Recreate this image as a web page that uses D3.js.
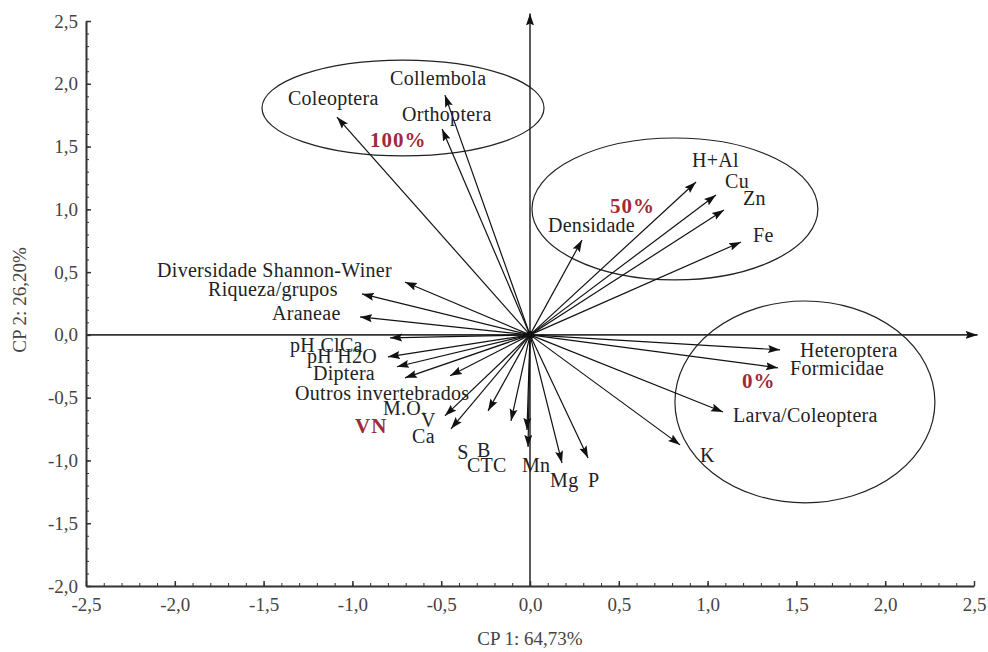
<!DOCTYPE html>
<html>
<head>
<meta charset="utf-8">
<script src="https://cdn.jsdelivr.net/npm/d3@7"></script>
<style>
  body { margin: 0; background: #fff; }
  svg { display: block; }
  text { font-family: "Liberation Serif", "Times New Roman", serif; }
</style>
</head>
<body>
<svg id="chart"></svg>
<script>
// variables of the PCA (loadings on CP 1 and CP 2)
const variables = ["Coleoptera", "Collembola", "Orthoptera", "Densidade", "H+Al", "Cu", "Zn", "Fe",
  "Diversidade Shannon-Winer", "Riqueza/grupos", "Araneae", "pH ClCa", "pH H2O", "Diptera",
  "Outros invertebrados", "M.O.", "V", "Ca", "S", "B", "CTC", "Mn", "Mg", "P", "K",
  "Larva/Coleoptera", "Heteroptera", "Formicidae"];
const cp1 = [-1.087, -0.479, -0.495, 0.293, 0.935, 1.047, 1.092, 1.188,
  -0.704, -0.946, -0.957, -0.788, -0.800, -0.749,
  -0.704, -0.450, -0.479, -0.445, -0.236, -0.107, -0.017, -0.011, 0.180, 0.327, 0.845,
  1.087, 1.408, 1.396];
const cp2 = [1.735, 1.910, 1.640, 0.756, 1.218, 1.114, 0.995, 0.740,
  0.421, 0.326, 0.143, -0.023, -0.175, -0.254,
  -0.342, -0.326, -0.645, -0.748, -0.605, -0.685, -0.757, -0.892, -1.020, -0.980, -0.876,
  -0.614, -0.119, -0.262];
// where each name is written (start of text, baseline), in CP units
const labelCP1 = [-1.363, -0.788, -0.721, 0.101, 0.912, 1.098, 1.199, 1.256,
  -2.100, -1.813, -1.453, -1.351, -1.256, -1.222,
  -1.323, -0.828, -0.614, -0.664, -0.410, -0.298, -0.355, -0.045, 0.113, 0.327, 0.957,
  1.143, 1.520, 1.464];
const labelCP2 = [1.830, 1.990, 1.700, 0.820, 1.337, 1.170, 1.035, 0.740,
  0.460, 0.310, 0.120, -0.140, -0.220, -0.360,
  -0.520, -0.637, -0.733, -0.860, -0.990, -0.970, -1.090, -1.090, -1.210, -1.210, -1.010,
  -0.690, -0.180, -0.320];

// groups (red labels) and the ellipses around them
const groups = ["100%", "50%", "0%", "VN"];
const groupCP1 = [-0.901, 0.450, 1.194, -0.985];
const groupCP2 = [1.495, 0.970, -0.420, -0.780];
const ellipseCP1 = [-0.715, 0.816, 1.548];
const ellipseCP2 = [1.807, 1.003, -0.534];
const ellipseRX = [0.794, 0.805, 0.732];
const ellipseRY = [0.382, 0.565, 0.804];

const xTicks = [-2.5, -2.0, -1.5, -1.0, -0.5, 0.0, 0.5, 1.0, 1.5, 2.0, 2.5];
const yTicks = [-2.0, -1.5, -1.0, -0.5, 0.0, 0.5, 1.0, 1.5, 2.0, 2.5];
const xTitle = "CP 1: 64,73%";
const yTitle = "CP 2: 26,20%";

const width = 988, height = 652;
const svg = d3.select("#chart").attr("width", width).attr("height", height);

const x = d3.scaleLinear().domain([-2.5, 2.5]).range([86, 974]);
const y = d3.scaleLinear().domain([-2.0, 2.5]).range([586, 21]);

const fmt = d => (d < 0 ? "-" : "") + Math.abs(d).toFixed(1).replace(".", ",");
const minor = (lo, hi) => d3.range(Math.round(lo * 10), Math.round(hi * 10) + 1).map(v => v / 10);

// arrowhead
svg.append("defs").append("marker")
  .attr("id", "head")
  .attr("markerUnits", "userSpaceOnUse")
  .attr("viewBox", "0 -5 12 10")
  .attr("markerWidth", 12)
  .attr("markerHeight", 10)
  .attr("refX", 12)
  .attr("refY", 0)
  .attr("orient", "auto")
  .append("path")
  .attr("d", "M0,-4L12,0L0,4L2,0Z")
  .attr("fill", "#111");

// minor ticks
svg.append("g")
  .attr("transform", `translate(0,${y(-2)})`)
  .call(d3.axisBottom(x).tickValues(minor(-2.5, 2.5)).tickSize(-3).tickSizeOuter(0).tickFormat(""))
  .call(g => g.select(".domain").remove())
  .call(g => g.selectAll("line").attr("stroke", "#333"));
svg.append("g")
  .attr("transform", `translate(${x(-2.5)},0)`)
  .call(d3.axisLeft(y).tickValues(minor(-2.0, 2.5)).tickSize(-3).tickSizeOuter(0).tickFormat(""))
  .call(g => g.select(".domain").remove())
  .call(g => g.selectAll("line").attr("stroke", "#333"));

// major axes
const xAxis = svg.append("g")
  .attr("transform", `translate(0,${y(-2)})`)
  .call(d3.axisBottom(x).tickValues(xTicks).tickSize(-5).tickSizeOuter(0).tickPadding(12).tickFormat(fmt));
const yAxis = svg.append("g")
  .attr("transform", `translate(${x(-2.5)},0)`)
  .call(d3.axisLeft(y).tickValues(yTicks).tickSize(-5).tickSizeOuter(0).tickPadding(8).tickFormat(fmt));
[xAxis, yAxis].forEach(a => {
  a.select(".domain").attr("stroke", "#333").attr("stroke-width", 2);
  a.selectAll("line").attr("stroke", "#333").attr("stroke-width", 1.5);
  a.selectAll("text")
    .attr("fill", "#444")
    .style("font-family", "'Liberation Serif', serif")
    .style("font-size", "19px");
});

// center axes with arrows
svg.append("line")
  .attr("x1", x(-2.5)).attr("y1", y(0))
  .attr("x2", x(2.52)).attr("y2", y(0))
  .attr("stroke", "#333").attr("stroke-width", 1.6)
  .attr("marker-end", "url(#head)");
svg.append("line")
  .attr("x1", x(0)).attr("y1", y(-2))
  .attr("x2", x(0)).attr("y2", y(2.56))
  .attr("stroke", "#333").attr("stroke-width", 1.6)
  .attr("marker-end", "url(#head)");

// ellipses
svg.selectAll(".group-ellipse")
  .data(ellipseCP1)
  .enter()
  .append("ellipse")
  .attr("class", "group-ellipse")
  .attr("cx", (d, i) => x(d))
  .attr("cy", (d, i) => y(ellipseCP2[i]))
  .attr("rx", (d, i) => x(d + ellipseRX[i]) - x(d))
  .attr("ry", (d, i) => y(ellipseCP2[i] - ellipseRY[i]) - y(ellipseCP2[i]))
  .attr("fill", "none")
  .attr("stroke", "#222")
  .attr("stroke-width", 1.2);

// loading vectors
svg.selectAll(".vector")
  .data(variables)
  .enter()
  .append("line")
  .attr("class", "vector")
  .attr("x1", x(0)).attr("y1", y(0))
  .attr("x2", (d, i) => x(cp1[i]))
  .attr("y2", (d, i) => y(cp2[i]))
  .attr("stroke", "#111")
  .attr("stroke-width", 1.2)
  .attr("marker-end", "url(#head)");

svg.append("circle")
  .attr("cx", x(0)).attr("cy", y(0)).attr("r", 4)
  .attr("fill", "#111");

// variable names
svg.selectAll(".var-label")
  .data(variables)
  .enter()
  .append("text")
  .attr("class", "var-label")
  .attr("x", (d, i) => x(labelCP1[i]))
  .attr("y", (d, i) => y(labelCP2[i]))
  .attr("fill", "#222")
  .style("font-size", "20px")
  .style("letter-spacing", "0.3px")
  .text(d => d);

// group names
svg.selectAll(".group-label")
  .data(groups)
  .enter()
  .append("text")
  .attr("class", "group-label")
  .attr("x", (d, i) => x(groupCP1[i]))
  .attr("y", (d, i) => y(groupCP2[i]))
  .attr("fill", "#9e2a3a")
  .style("font-size", "21px")
  .style("font-weight", "bold")
  .style("letter-spacing", "1px")
  .text(d => d);

// axis titles
svg.append("text")
  .attr("x", x(0))
  .attr("y", 645)
  .attr("text-anchor", "middle")
  .attr("fill", "#444")
  .style("font-size", "19px")
  .text(xTitle);
svg.append("text")
  .attr("transform", `translate(26,300) rotate(-90)`)
  .attr("text-anchor", "middle")
  .attr("fill", "#444")
  .style("font-size", "19px")
  .text(yTitle);
</script>
</body>
</html>
